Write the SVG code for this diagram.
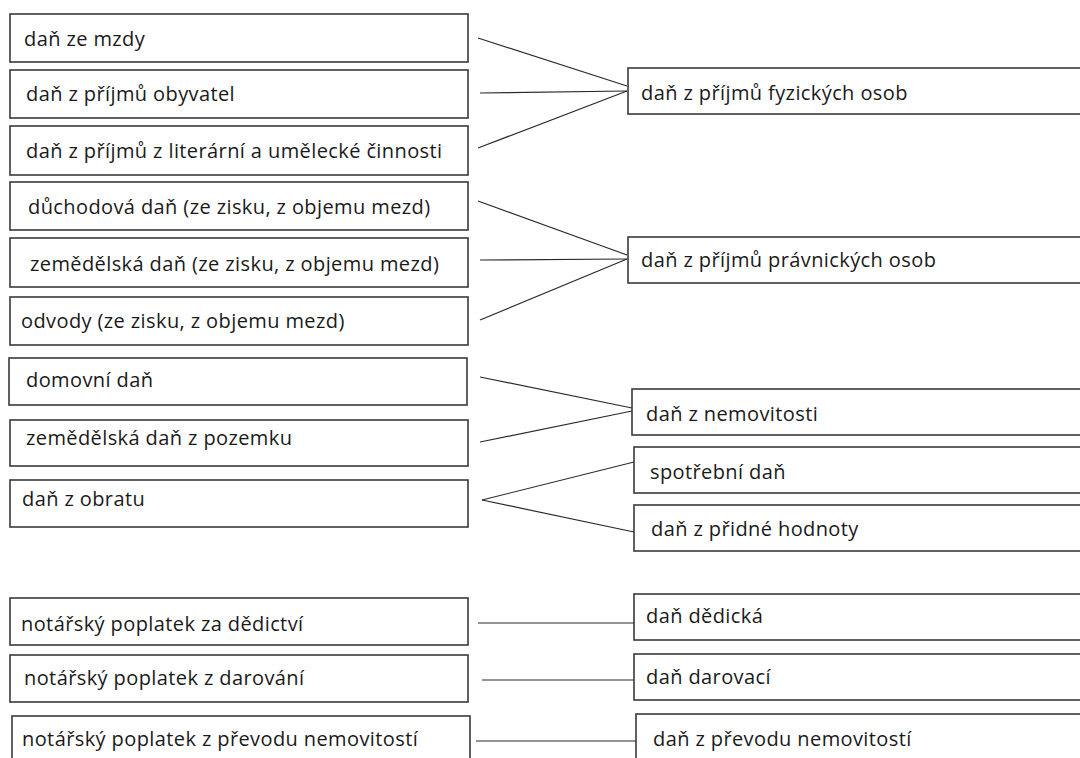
<svg xmlns="http://www.w3.org/2000/svg" width="1080" height="758" viewBox="0 0 1080 758">
<style>
rect{fill:#fff;stroke:#3a3a3a;stroke-width:1.6}
text{font-family:"Open Sans","Liberation Sans",sans-serif;font-size:20px;letter-spacing:0.4px;fill:#1a1a1a}
#connectors line{stroke:#2a2a2a;stroke-width:1.2}
</style>
<rect x="0" y="0" width="1080" height="758" style="fill:#fff;stroke:none"/>
<g id="connectors">
<line x1="478" y1="38" x2="627" y2="86"/>
<line x1="480" y1="93" x2="627" y2="91"/>
<line x1="478" y1="148" x2="627" y2="91"/>
<line x1="478" y1="201" x2="627" y2="255"/>
<line x1="480" y1="260" x2="627" y2="259"/>
<line x1="480" y1="320" x2="627" y2="259"/>
<line x1="480" y1="377" x2="632" y2="408"/>
<line x1="480" y1="442" x2="632" y2="411"/>
<line x1="482" y1="500" x2="634" y2="462"/>
<line x1="482" y1="500" x2="634" y2="532"/>
<line x1="478" y1="623" x2="634" y2="623"/>
<line x1="482" y1="680" x2="634" y2="680"/>
<line x1="476" y1="741" x2="636" y2="741"/>
</g>
<g id="n1"><rect x="10" y="14" width="458" height="48"/><text x="24" y="46">daň ze mzdy</text></g>
<g id="n2"><rect x="10" y="70" width="458" height="48"/><text x="26" y="101">daň z příjmů obyvatel</text></g>
<g id="n3"><rect x="10" y="126" width="458" height="49"/><text x="26" y="158">daň z příjmů z literární a umělecké činnosti</text></g>
<g id="n4"><rect x="10" y="182" width="458" height="48"/><text x="28" y="214">důchodová daň (ze zisku, z objemu mezd)</text></g>
<g id="n5"><rect x="10" y="238" width="458" height="49"/><text x="30" y="271">zemědělská daň (ze zisku, z objemu mezd)</text></g>
<g id="n6"><rect x="10" y="297" width="458" height="48"/><text x="21" y="328">odvody (ze zisku, z objemu mezd)</text></g>
<g id="n7"><rect x="9" y="358" width="458" height="47"/><text x="26" y="387">domovní daň</text></g>
<g id="n8"><rect x="10" y="420" width="458" height="46"/><text x="26" y="445">zemědělská daň z pozemku</text></g>
<g id="n9"><rect x="10" y="480" width="458" height="47"/><text x="22" y="506">daň z obratu</text></g>
<g id="n10"><rect x="10" y="598" width="458" height="47"/><text x="21" y="631">notářský poplatek za dědictví</text></g>
<g id="n11"><rect x="10" y="655" width="458" height="47"/><text x="24" y="685">notářský poplatek z darování</text></g>
<g id="n12"><rect x="12" y="716" width="458" height="60"/><text x="22" y="746">notářský poplatek z převodu nemovitostí</text></g>
<g id="r1"><rect x="628" y="68" width="470" height="46"/><text x="641" y="100">daň z příjmů fyzických osob</text></g>
<g id="r2"><rect x="628" y="237" width="470" height="46"/><text x="641" y="267">daň z příjmů právnických osob</text></g>
<g id="r3"><rect x="632" y="389" width="470" height="46"/><text x="646" y="421">daň z nemovitosti</text></g>
<g id="r4"><rect x="634" y="447" width="470" height="46"/><text x="650" y="479">spotřební daň</text></g>
<g id="r5"><rect x="634" y="505" width="470" height="46"/><text x="651" y="536">daň z přidné hodnoty</text></g>
<g id="r6"><rect x="634" y="594" width="470" height="46"/><text x="646" y="623">daň dědická</text></g>
<g id="r7"><rect x="634" y="654" width="470" height="46"/><text x="646" y="684">daň darovací</text></g>
<g id="r8"><rect x="636" y="714" width="470" height="60"/><text x="653" y="746">daň z převodu nemovitostí</text></g>
</svg>
